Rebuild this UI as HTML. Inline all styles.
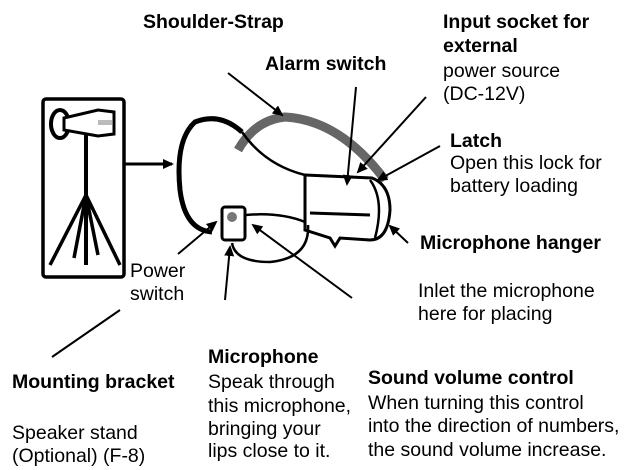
<!DOCTYPE html>
<html><head><meta charset="utf-8"><style>
html,body{margin:0;padding:0;background:#fff;}
svg{display:block;}
text{font-family:"Liberation Sans",Arial,sans-serif;font-size:19.5px;fill:#000;}
.b{font-weight:bold;}
</style></head><body>
<svg width="624" height="470" viewBox="0 0 624 470" xmlns="http://www.w3.org/2000/svg">
<defs><marker id="a" markerWidth="12" markerHeight="12" refX="9" refY="6" orient="auto" markerUnits="userSpaceOnUse"><path d="M0,1 L11,6 L0,11 Z" fill="#000"/></marker></defs>
<!-- stand box -->
<rect x="43" y="99" width="81" height="178" rx="3" fill="#fff" stroke="#000" stroke-width="3.5"/>
<ellipse cx="60" cy="124" rx="9" ry="14" fill="none" stroke="#000" stroke-width="4"/>
<path d="M64,118 L98,110 L114,112 L114,134 L98,136 L64,130 Z" fill="#fff" stroke="#000" stroke-width="3"/>
<rect x="98" y="120" width="14" height="5" fill="#bbb"/>
<line x1="86" y1="135" x2="86" y2="265" stroke="#000" stroke-width="4"/>
<path d="M86,195 L50,265 M86,195 L120,265 M86,195 L98,255 M86,195 L74,258" stroke="#000" stroke-width="3.5" fill="none"/>
<line x1="125" y1="164" x2="172" y2="164" stroke="#000" stroke-width="3" marker-end="url(#a)"/>
<!-- megaphone -->
<path d="M238,150 Q255,120 285,117 Q340,120 385,180" fill="none" stroke="#666" stroke-width="9"/>
<path d="M242,132 Q220,112 195,122 Q175,140 180,190 Q185,230 212,232" fill="none" stroke="#000" stroke-width="5"/>
<path d="M242,132 Q265,165 305,175" fill="none" stroke="#000" stroke-width="2.5"/>
<path d="M246,215 Q280,212 305,222" fill="none" stroke="#000" stroke-width="2.5"/>
<path d="M305,175 L372,178 Q390,185 390,210 Q388,240 370,240 L340,238 L335,246 L330,238 L305,230 Z" fill="#fff" stroke="#000" stroke-width="3"/>
<line x1="310" y1="213" x2="370" y2="215" stroke="#000" stroke-width="3"/>
<path d="M370,180 Q385,200 375,238" fill="none" stroke="#000" stroke-width="2.5"/>
<rect x="222" y="207" width="23" height="33" rx="3" fill="#fff" stroke="#000" stroke-width="3"/>
<circle cx="232" cy="217" r="5" fill="#777"/>
<path d="M232,243 Q235,262 270,262 Q310,258 308,225" fill="none" stroke="#000" stroke-width="2.5"/>
<!-- arrows -->
<line x1="228" y1="73" x2="282" y2="115" stroke="#000" stroke-width="2" marker-end="url(#a)"/>
<line x1="356" y1="87" x2="347" y2="184" stroke="#000" stroke-width="2" marker-end="url(#a)"/>
<line x1="426" y1="97" x2="358" y2="172" stroke="#000" stroke-width="2" marker-end="url(#a)"/>
<line x1="440" y1="146" x2="378" y2="180" stroke="#000" stroke-width="2" marker-end="url(#a)"/>
<line x1="408" y1="243" x2="390" y2="226" stroke="#000" stroke-width="2" marker-end="url(#a)"/>
<line x1="178" y1="254" x2="216" y2="222" stroke="#000" stroke-width="2" marker-end="url(#a)"/>
<line x1="225" y1="300" x2="230" y2="247" stroke="#000" stroke-width="2" marker-end="url(#a)"/>
<line x1="352" y1="298" x2="253" y2="225" stroke="#000" stroke-width="2" marker-end="url(#a)"/>
<line x1="52" y1="357" x2="120" y2="310" stroke="#000" stroke-width="2"/>
<!-- text -->
<text x="143" y="28" class="b">Shoulder-Strap</text>
<text x="265" y="70" class="b">Alarm switch</text>
<text x="443" y="28" class="b">Input socket for</text>
<text x="443" y="52" class="b">external</text>
<text x="443" y="77">power source</text>
<text x="443" y="100">(DC-12V)</text>
<text x="450" y="147" class="b">Latch</text>
<text x="450" y="169">Open this lock for</text>
<text x="450" y="192">battery loading</text>
<text x="420" y="249" class="b">Microphone hanger</text>
<text x="418" y="297">Inlet the microphone</text>
<text x="418" y="320">here for placing</text>
<text x="130" y="277">Power</text>
<text x="130" y="300">switch</text>
<text x="208" y="363" class="b">Microphone</text>
<text x="208" y="388">Speak through</text>
<text x="208" y="412">this microphone,</text>
<text x="208" y="435">bringing your</text>
<text x="208" y="457">lips close to it.</text>
<text x="12" y="388" class="b">Mounting bracket</text>
<text x="12" y="439">Speaker stand</text>
<text x="12" y="462">(Optional) (F-8)</text>
<text x="368" y="384" class="b">Sound volume control</text>
<text x="368" y="409">When turning this control</text>
<text x="368" y="432">into the direction of numbers,</text>
<text x="368" y="456">the sound volume increase.</text>
</svg>
</body></html>
